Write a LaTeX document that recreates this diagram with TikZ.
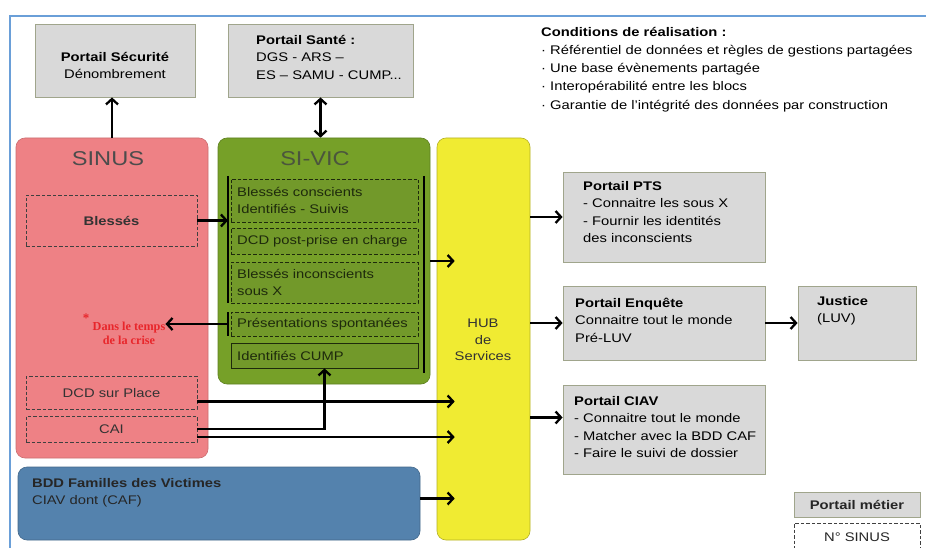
\documentclass[tikz,border=0pt]{standalone}
\usepackage{fontspec}
\setmainfont{Liberation Sans}[FakeStretch=1.18]
\newfontfamily\redfont{Liberation Serif}
\usetikzlibrary{arrows.meta}
\definecolor{framecol}{HTML}{6A9FD8}
\definecolor{portalfill}{HTML}{D9D9D9}
\definecolor{portalborder}{HTML}{A0A58C}
\definecolor{sinusfill}{HTML}{EE8185}
\definecolor{sivicfill}{HTML}{76A028}
\definecolor{sivicin}{HTML}{72992A}
\definecolor{hubfill}{HTML}{F0EB32}
\definecolor{bddfill}{HTML}{5482AD}
\definecolor{redtxt}{HTML}{E8262B}
\definecolor{gtxt}{HTML}{1E2A0C}
\begin{document}
\begin{tikzpicture}[x=1pt,y=-1pt,
  fs/.style={font=\fontsize{12.5}{17.5}\selectfont},
  portal/.style={draw=portalborder, fill=portalfill, line width=0.8pt, inner sep=0},
  bigbox/.style={rounded corners=9pt, inner sep=0, line width=0.6pt},
  dbox/.style={draw=black!75, dash pattern=on 3.5pt off 2pt, line width=0.7pt, inner sep=0},
  gbox/.style={draw=gtxt, dash pattern=on 3.5pt off 2pt, line width=0.8pt, fill=sivicin, inner sep=0},
  txt/.style={fs, align=left, inner sep=0, anchor=west},
  ctxt/.style={fs, align=center, inner sep=0},
  arr/.style={line width=2.3pt, -{Straight Barb[length=5.5pt,width=12pt]}},
  darr/.style={line width=2.3pt, {Straight Barb[length=5.5pt,width=12pt]}-{Straight Barb[length=5.5pt,width=12pt]}},
  bar/.style={line width=2.2pt}]
\useasboundingbox (0,0) rectangle (926,548);
\clip (0,0) rectangle (926,548);
\fill[white] (0,0) rectangle (926,548);
% frame
\draw[framecol, line width=1.5pt] (926,16) -- (10,16) -- (10,560);

% top portals
\node[portal, minimum width=160pt, minimum height=73pt] (sec) at (115,60.5) {};
\node[ctxt] (sect) at (115,65.5) {\textbf{Portail Sécurité}\\Dénombrement};
\node[portal, minimum width=185pt, minimum height=73pt] (sante) at (320.5,60.5) {};
\node[txt] (santet) at (256,57) {\textbf{Portail Santé :}\\DGS - ARS –\\ES – SAMU - CUMP...};

% conditions
\node[txt, font=\fontsize{12.5}{18.2}\selectfont] (cond) at (541,69.5) {\textbf{Conditions de réalisation :}\\
· Référentiel de données et règles de gestions partagées\\
· Une base évènements partagée\\
· Interopérabilité entre les blocs\\
· Garantie de l'intégrité des données par construction};

% SINUS
\node[bigbox, fill=sinusfill, draw=sinusfill!85!black, minimum width=192pt, minimum height=320pt] (sinus) at (112,298) {};
\node[inner sep=0, font=\fontsize{20}{24}\selectfont, text=black!70] (sinust) at (108,159) {SINUS};
\node[dbox, minimum width=171pt, minimum height=51pt] (blesses) at (111.5,220.5) {};
\node[ctxt, text=black!80] (blessest) at (111.5,221) {\textbf{Blessés}};
\node[dbox, minimum width=171pt, minimum height=33pt] (dcdp) at (111.5,392.5) {};
\node[ctxt, text=black!80] (dcdpt) at (111.5,393) {DCD sur Place};
\node[dbox, minimum width=171pt, minimum height=26pt] (cai) at (111.5,429) {};
\node[ctxt, text=black!80] (cait) at (111.5,429) {CAI};
\node[inner sep=0, align=center, text=redtxt, font=\redfont\bfseries\fontsize{12.2}{14}\selectfont] (crise) at (129,333) {Dans le temps\\de la crise};
\node[inner sep=0, text=redtxt, font=\redfont\bfseries\fontsize{13}{13}\selectfont] (star) at (86,318) {*};

% SI-VIC
\node[bigbox, fill=sivicfill, draw=sivicfill!80!black, minimum width=212pt, minimum height=246pt] (sivic) at (324,261) {};
\node[inner sep=0, font=\fontsize{20}{24}\selectfont, text=gtxt!80] (sivict) at (315,159) {SI-VIC};
\node[gbox, minimum width=187pt, minimum height=43pt] (bc) at (324.5,200.5) {};
\node[txt, text=gtxt] (bct) at (237,200.5) {Blessés conscients\\Identifiés - Suivis};
\node[gbox, minimum width=187pt, minimum height=26pt] (dpp) at (324.5,241) {};
\node[txt, text=gtxt] (dppt) at (237,241) {DCD post-prise en charge};
\node[gbox, minimum width=187pt, minimum height=41pt] (bi) at (324.5,282.5) {};
\node[txt, text=gtxt] (bit) at (237,282.5) {Blessés inconscients\\sous X};
\node[gbox, minimum width=187pt, minimum height=24pt] (ps) at (324.5,324) {};
\node[txt, text=gtxt] (pst) at (237,324) {Présentations spontanées};
\node[gbox, solid, minimum width=187pt, minimum height=25pt] (cump) at (324.5,355.5) {};
\node[txt, text=gtxt] (cumpt) at (237,355.5) {Identifiés CUMP};
\coordinate (lb1a) at (228,176);
\coordinate (lb1b) at (228,303);
\coordinate (lb2a) at (228,312);
\coordinate (lb2b) at (228,336);
\coordinate (rba) at (424,176);
\coordinate (rbb) at (424,373);
\draw[bar] (lb1a) -- (lb1b);
\draw[bar] (lb2a) -- (lb2b);
\draw[bar] (rba) -- (rbb);

% HUB
\node[bigbox, fill=hubfill, draw=hubfill!75!black, minimum width=93pt, minimum height=402pt] (hub) at (483.5,339) {};
\node[ctxt, text=black!80, font=\fontsize{12.5}{16.5}\selectfont] (hubt) at (483,340) {HUB\\de\\Services};
\coordinate (hubin) at ([xshift=18pt]hub.west);

% right portals
\node[portal, minimum width=202pt, minimum height=90pt] (pts) at (664,217) {};
\node[txt] (ptst) at (583,212) {\textbf{Portail PTS}\\- Connaitre les sous X\\- Fournir les identités\\des inconscients};
\node[portal, minimum width=202pt, minimum height=74pt] (enq) at (664,323) {};
\node[txt] (enqt) at (575,320) {\textbf{Portail Enquête}\\Connaitre tout le monde\\Pré-LUV};
\node[portal, minimum width=118pt, minimum height=74pt] (just) at (857,323) {};
\node[txt] (justt) at (817,311) {\textbf{Justice}\\(LUV)};
\node[portal, minimum width=202pt, minimum height=89pt] (ciav) at (664,429.5) {};
\node[txt] (ciavt) at (574,427) {\textbf{Portail CIAV}\\- Connaitre tout le monde\\- Matcher avec la BDD CAF\\- Faire le suivi de dossier};
\coordinate (ciavin) at ([yshift=12pt]ciav.west);

% BDD
\node[bigbox, fill=bddfill, draw=bddfill!80!black, minimum width=402pt, minimum height=73pt] (bdd) at (219,503.5) {};
\node[txt, text=black!85] (bddt) at (32,493) {\textbf{BDD Familles des Victimes}\\CIAV dont (CAF)};

% legend
\node[portal, minimum width=126pt, minimum height=25pt] (legp) at (857,504.5) {};
\node[ctxt, text=black!85] (legpt) at (857,504.5) {\textbf{Portail métier}};
\node[dbox, minimum width=126pt, minimum height=33pt] (legs) at (857,539.5) {};
\node[ctxt, text=black!85] (legst) at (857,537.5) {N° SINUS};

% connector endpoints
\coordinate (dcdout) at ([yshift=-9pt]dcdp.east);
\coordinate (caiout) at ([yshift=-8pt]cai.east);
\coordinate (bddout) at ([yshift=5pt]bdd.east);

% connectors
\draw[arr] (sinus.north) -- (sinus.north |- sec.south);
\draw[darr] (sante.south) -- (sante.south |- sivic.north);
\draw[arr] (blesses.east) -- (blesses.east -| lb1a);
\draw[arr] (ps.west -| lb2a) -- (ps.west -| crise.east);
\draw[arr] (sivic.east) -- (sivic.east -| hubin);
\draw[arr] (hub.east |- pts.west) -- (pts.west);
\draw[arr] (hub.east |- enq.west) -- (enq.west);
\draw[arr] (hub.east |- ciavin) -- (ciavin);
\draw[arr] (enq.east) -- (just.west);
\draw[arr] (dcdout) -- (dcdout -| hubin);
\draw[arr] (cai.east) -| (cump.south);
\draw[arr] (caiout) -- (caiout -| hubin);
\draw[arr] (bddout) -- (bddout -| hubin);
\end{tikzpicture}
\end{document}
